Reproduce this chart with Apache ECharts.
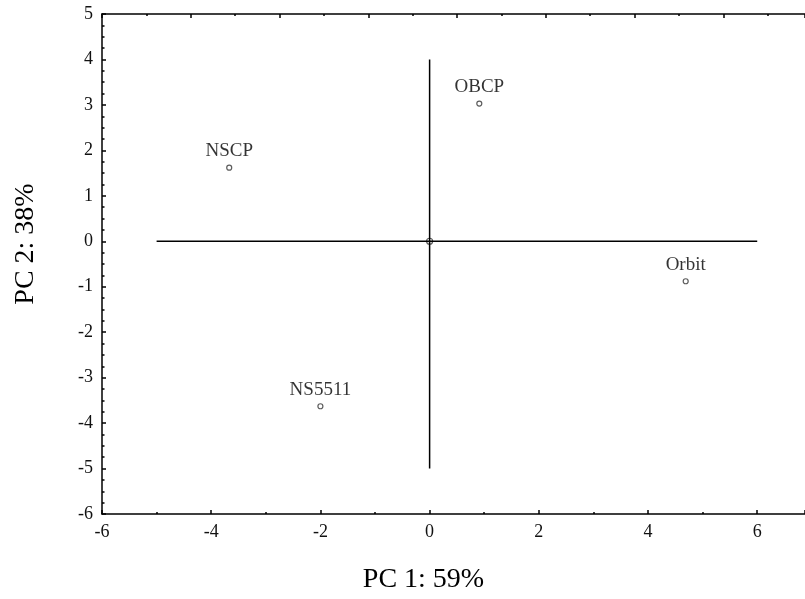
<!DOCTYPE html>
<html>
<head>
<meta charset="utf-8">
<script src="https://cdn.jsdelivr.net/npm/echarts@6/dist/echarts.min.js"></script>
<style>html,body{margin:0;padding:0;background:#fff}#c{width:805px;height:599px}</style>
</head>
<body>
<div id="c"></div>
<script>
const names = ["NSCP", "NS5511", "OBCP", "Orbit"];
const pc1 = [-3.67, -2.0, 0.91, 4.69];
const pc2 = [1.62, -3.63, 3.03, -0.88];
const hLine = [[-5, 0], [6, 0]];
const vLine = [[0, -5], [0, 4]];
const origin = [[0, 0]];
const xTitle = "PC 1: 59%";
const yTitle = "PC 2: 38%";

const serif = "'Liberation Serif', 'Times New Roman', serif";
const chart = echarts.init(document.getElementById('c'), null, {renderer: 'canvas'});
const pts = names.map((n, i) => ({name: n, value: [pc1[i], pc2[i]]}));

chart.setOption({
  animation: false,
  grid: {left: 102, top: 14, height: 500, right: 0},
  xAxis: [{
    type: 'value', min: -6, max: 6.875, interval: 2, position: 'bottom',
    name: xTitle, nameLocation: 'middle', nameGap: 52,
    nameTextStyle: {fontFamily: serif, fontSize: 28, color: '#000', padding: [0, 60, 0, 0]},
    axisLine: {show: true, onZero: false, lineStyle: {color: '#000', width: 1.5}},
    axisTick: {show: true, inside: true, length: 4, lineStyle: {color: '#000', width: 1.5}},
    minorTick: {show: true, splitNumber: 2, length: 2, lineStyle: {color: '#000', width: 1.5}},
    splitLine: {show: false},
    axisLabel: {fontFamily: serif, fontSize: 18, color: '#111', margin: 9, showMaxLabel: false,
      formatter: v => (v > 6 ? '' : String(v))}
  }, {
    type: 'value', min: 0, max: 15.84, interval: 2, position: 'top',
    axisLine: {show: true, onZero: false, lineStyle: {color: '#000', width: 1.5}},
    axisTick: {show: true, inside: true, length: 4, lineStyle: {color: '#000', width: 1.5}},
    minorTick: {show: true, splitNumber: 2, length: 2, lineStyle: {color: '#000', width: 1.5}},
    splitLine: {show: false},
    axisLabel: {show: false}
  }],
  yAxis: [{
    type: 'value', min: -6, max: 5, interval: 1,
    name: yTitle, nameLocation: 'middle', nameGap: 62, nameRotate: 90,
    nameTextStyle: {fontFamily: serif, fontSize: 28, color: '#000', padding: [0, 0, 0, 40]},
    axisLine: {show: true, onZero: false, lineStyle: {color: '#000', width: 1.5}},
    axisTick: {show: true, inside: true, length: 4, lineStyle: {color: '#000', width: 1.5}},
    minorTick: {show: true, splitNumber: 4, length: 2.5, lineStyle: {color: '#000', width: 1.5}},
    splitLine: {show: false},
    axisLabel: {fontFamily: serif, fontSize: 18, color: '#111', margin: 9}
  }],
  series: [
    {type: 'line', data: hLine, symbol: 'none', lineStyle: {color: '#000', width: 1.5}, silent: true},
    {type: 'line', data: vLine, symbol: 'none', lineStyle: {color: '#000', width: 1.5}, silent: true},
    {type: 'scatter', data: origin, symbol: 'circle', symbolSize: 6,
      itemStyle: {color: '#fff', borderColor: '#333', borderWidth: 1.2}},
    {type: 'scatter', data: pts, symbol: 'circle', symbolSize: 5,
      itemStyle: {color: '#fff', borderColor: '#333', borderWidth: 1.2},
      label: {show: true, position: 'top', distance: 4, formatter: p => p.name,
        fontFamily: serif, fontSize: 19, color: '#000'}}
  ]
});
</script>
</body>
</html>
